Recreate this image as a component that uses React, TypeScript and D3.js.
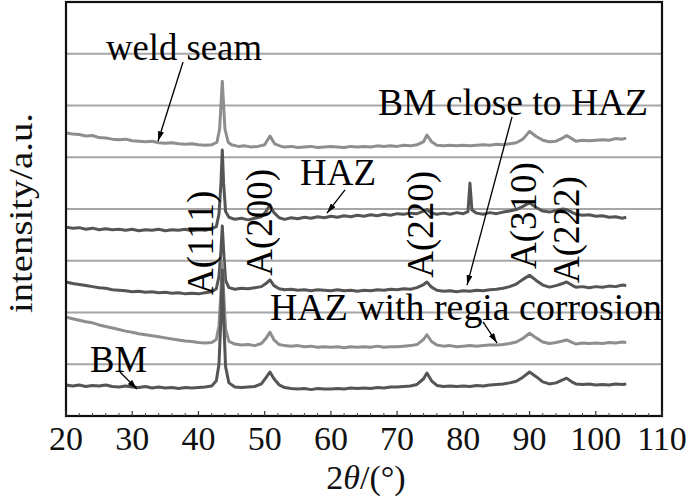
import React from "react";
import * as d3 from "d3";

type P = [number, number];

const weldSeam: P[] = [[20,5.47],[21,5.45],[22,5.44],[23,5.41],[24,5.42],[25,5.38],[26,5.37],[27,5.35],[28,5.34],[29,5.35],[30,5.32],[31,5.31],[32,5.30],[33,5.31],[34,5.28],[35,5.27],[36,5.28],[37,5.26],[38,5.25],[39,5.26],[40,5.24],[41,5.23],[42,5.24],[42.8,5.29],[43.2,5.55],[43.6,6.47],[44.0,5.55],[44.5,5.29],[45,5.24],[46,5.21],[47,5.22],[48,5.20],[49,5.21],[50,5.24],[50.8,5.41],[51.5,5.26],[52.5,5.21],[53,5.20],[54,5.21],[55,5.19],[56,5.20],[57,5.21],[58,5.19],[59,5.20],[60,5.21],[61,5.20],[62,5.19],[63,5.21],[64,5.20],[65,5.21],[66,5.20],[67,5.22],[68,5.21],[69,5.22],[70,5.21],[71,5.23],[72,5.22],[73,5.24],[74,5.30],[74.5,5.43],[75.2,5.30],[76,5.23],[77,5.22],[78,5.23],[79,5.22],[80,5.23],[81,5.22],[82,5.23],[83,5.24],[84,5.23],[85,5.25],[86,5.24],[87,5.26],[88,5.28],[89,5.35],[90,5.50],[91,5.40],[92,5.33],[93,5.30],[94,5.31],[95,5.37],[95.6,5.42],[96.5,5.35],[97,5.31],[98,5.33],[99,5.32],[100,5.33],[101,5.34],[102,5.33],[103,5.36],[104,5.35],[104.6,5.37]];

const haz: P[] = [[20,3.65],[21,3.63],[22,3.64],[23,3.61],[24,3.63],[25,3.60],[26,3.62],[27,3.60],[28,3.61],[29,3.59],[30,3.61],[31,3.58],[32,3.60],[33,3.59],[34,3.61],[35,3.58],[36,3.60],[37,3.59],[38,3.61],[39,3.58],[40,3.60],[41,3.59],[42,3.62],[42.7,3.66],[43.1,3.90],[43.4,4.50],[43.6,5.14],[43.8,4.50],[44.1,3.95],[44.6,3.84],[45.5,3.80],[46.5,3.82],[47.5,3.79],[48.5,3.82],[49.5,3.85],[50.2,3.95],[50.8,4.08],[51.4,3.93],[52.2,3.83],[53,3.80],[54,3.83],[55,3.81],[56,3.84],[57,3.82],[58,3.85],[59,3.83],[60,3.86],[61,3.84],[62,3.87],[63,3.85],[64,3.88],[65,3.86],[66,3.89],[67,3.87],[68,3.90],[69,3.88],[70,3.91],[71,3.90],[72,3.92],[73,3.91],[74,3.96],[74.5,3.99],[75.2,3.92],[76,3.90],[77,3.92],[78,3.90],[79,3.93],[80,3.91],[80.7,3.95],[81.0,4.50],[81.3,3.98],[82,3.92],[83,3.90],[84,3.93],[85,3.91],[86,3.94],[87,3.96],[88,3.99],[89,4.05],[90,4.12],[91,4.03],[92,3.96],[93,3.94],[94,3.97],[95,4.00],[95.6,3.99],[96.5,3.93],[97,3.90],[98,3.88],[99,3.89],[100,3.86],[101,3.87],[102,3.84],[103,3.85],[104,3.82],[104.6,3.84]];

const bmCloseToHaz: P[] = [[20,2.59],[21,2.56],[22,2.54],[23,2.52],[24,2.50],[25,2.48],[26,2.47],[27,2.44],[28,2.43],[29,2.42],[30,2.40],[31,2.41],[32,2.39],[33,2.40],[34,2.38],[35,2.39],[36,2.37],[37,2.38],[38,2.36],[39,2.37],[40,2.36],[41,2.38],[42,2.40],[42.7,2.46],[43.1,2.70],[43.4,3.20],[43.6,3.67],[43.8,3.20],[44.1,2.62],[44.6,2.48],[45.5,2.45],[46.5,2.47],[47.5,2.46],[48.5,2.48],[49.5,2.50],[50.2,2.56],[50.8,2.63],[51.4,2.52],[52.2,2.46],[53,2.44],[54,2.45],[55,2.43],[56,2.44],[57,2.42],[58,2.44],[59,2.43],[60,2.42],[61,2.44],[62,2.42],[63,2.43],[64,2.41],[65,2.43],[66,2.42],[67,2.44],[68,2.43],[69,2.45],[70,2.44],[71,2.46],[72,2.45],[73,2.48],[74,2.54],[74.5,2.59],[75.2,2.49],[76,2.43],[77,2.41],[78,2.42],[79,2.40],[80,2.42],[81,2.41],[82,2.43],[83,2.42],[84,2.44],[85,2.45],[86,2.47],[87,2.50],[88,2.55],[89,2.64],[90,2.72],[91,2.62],[92,2.53],[93,2.49],[94,2.52],[95,2.56],[95.6,2.59],[96.5,2.52],[97,2.49],[98,2.50],[99,2.48],[100,2.50],[101,2.49],[102,2.51],[103,2.50],[104,2.53],[104.6,2.52]];

const hazRegia: P[] = [[20,1.91],[21,1.88],[22,1.85],[23,1.82],[24,1.80],[25,1.76],[26,1.73],[27,1.70],[28,1.67],[29,1.64],[30,1.62],[31,1.59],[32,1.57],[33,1.55],[34,1.53],[35,1.51],[36,1.49],[37,1.47],[38,1.45],[39,1.44],[40,1.42],[41,1.41],[42,1.42],[42.7,1.48],[43.1,1.75],[43.4,2.40],[43.6,2.98],[43.8,2.40],[44.1,1.68],[44.6,1.44],[45.5,1.39],[46.5,1.37],[47.5,1.38],[48.5,1.36],[49.5,1.40],[50.2,1.50],[50.8,1.62],[51.4,1.47],[52.2,1.38],[53,1.36],[54,1.35],[55,1.36],[56,1.34],[57,1.35],[58,1.33],[59,1.34],[60,1.33],[61,1.34],[62,1.32],[63,1.34],[64,1.33],[65,1.34],[66,1.33],[67,1.35],[68,1.33],[69,1.34],[70,1.34],[71,1.35],[72,1.36],[73,1.38],[74,1.48],[74.5,1.57],[75.2,1.44],[76,1.37],[77,1.35],[78,1.36],[79,1.34],[80,1.35],[81,1.36],[82,1.35],[83,1.36],[84,1.37],[85,1.37],[86,1.38],[87,1.40],[88,1.43],[89,1.50],[90,1.60],[91,1.51],[92,1.43],[93,1.40],[94,1.42],[95,1.45],[95.6,1.47],[96.5,1.42],[97,1.39],[98,1.41],[99,1.40],[100,1.41],[101,1.40],[102,1.42],[103,1.41],[104,1.43],[104.6,1.42]];

const bm: P[] = [[20,0.60],[21,0.58],[22,0.60],[23,0.57],[24,0.59],[25,0.58],[26,0.60],[27,0.57],[28,0.56],[29,0.58],[30,0.56],[31,0.55],[32,0.57],[33,0.54],[34,0.56],[35,0.54],[36,0.55],[37,0.53],[38,0.55],[39,0.54],[40,0.55],[41,0.56],[42,0.58],[42.7,0.68],[43.1,1.00],[43.4,1.90],[43.6,2.82],[43.8,1.90],[44.1,0.95],[44.6,0.64],[45.5,0.56],[46.5,0.55],[47.5,0.56],[48.5,0.57],[49.5,0.62],[50.2,0.74],[50.8,0.85],[51.4,0.72],[52.2,0.60],[53,0.55],[54,0.53],[55,0.52],[56,0.53],[57,0.51],[58,0.53],[59,0.52],[60,0.52],[61,0.53],[62,0.52],[63,0.54],[64,0.53],[65,0.54],[66,0.53],[67,0.55],[68,0.54],[69,0.56],[70,0.56],[71,0.57],[72,0.58],[73,0.61],[74,0.72],[74.5,0.83],[75.2,0.68],[76,0.59],[77,0.57],[78,0.58],[79,0.57],[80,0.58],[81,0.57],[82,0.59],[83,0.58],[84,0.60],[85,0.61],[86,0.62],[87,0.64],[88,0.67],[89,0.75],[90,0.85],[91,0.76],[92,0.66],[93,0.62],[94,0.64],[95,0.70],[95.6,0.73],[96.5,0.65],[97,0.62],[98,0.61],[99,0.62],[100,0.60],[101,0.61],[102,0.60],[103,0.62],[104,0.61],[104.6,0.62]];

const seriesNames = ["weld seam", "HAZ", "BM close to HAZ", "HAZ with regia corrosion", "BM"];
const seriesData = [weldSeam, haz, bmCloseToHaz, hazRegia, bm];
const seriesShade = ["light", "dark", "dark", "light", "dark"];

const xTickLabels = [20, 30, 40, 50, 60, 70, 80, 90, 100, 110];
const xMinorTicks = [22, 24, 26, 28, 32, 34, 36, 38, 42, 44, 46, 48, 52, 54, 56, 58, 62, 64, 66, 68, 72, 74, 76, 78, 82, 84, 86, 88, 92, 94, 96, 98, 102, 104, 106, 108];
const yGridLevels = [1, 2, 3, 4, 5, 6, 7];

// label text, anchor 2θ, anchor intensity, text length
const seriesLabels: [string, number, number, number][] = [
  ["weld seam", 26.04, 6.88, 156],
  ["BM close to HAZ", 67.12, 5.82, 270],
  ["HAZ", 55.34, 4.46, 76],
  ["HAZ with regia corrosion", 50.81, 1.86, 392],
  ["BM", 23.62, 0.85, 57],
];
// arrows: from (2θ, I) to (2θ, I)
const arrows: [number, number, number, number][] = [
  [37.67, 6.84, 33.89, 5.31],
  [62.13, 4.37, 59.41, 3.92],
  [87.35, 5.78, 80.56, 2.53],
  [82.97, 1.82, 85.09, 1.41],
  [28.15, 0.85, 30.72, 0.52],
];
// peak labels: text, 2θ of baseline, intensity of start
const peakLabels: [string, number, number][] = [
  ["A(111)", 42.2, 2.34],
  ["A(200)", 51.11, 2.71],
  ["A(220)", 75.42, 2.67],
  ["A(310)", 90.98, 2.84],
  ["A(222)", 97.47, 2.57],
];

const FONT = "'Liberation Serif', 'Times New Roman', serif";

export default function App() {
  const W = 700, H = 498;
  const L = 66, R = 662, T = 2, B = 416;
  const x = d3.scaleLinear().domain([20, 110]).range([L, R]);
  const y = d3.scaleLinear().domain([0, 8]).range([B, T]);
  const line = d3.line<P>().x((d) => x(d[0])).y((d) => y(d[1]));

  return (
    <div style={{ position: "absolute", left: 0, top: 0 }}>
      <svg width={W} height={H} style={{ display: "block", background: "#fff" }}>
        <defs>
          <marker id="ah" viewBox="0 0 10 6" refX="10" refY="3" markerWidth="10" markerHeight="6" markerUnits="userSpaceOnUse" orient="auto">
            <path d="M0,0 L10,3 L0,6 z" fill="#000" />
          </marker>
        </defs>
        {yGridLevels.map((v) => (
          <line key={v} x1={L} x2={R} y1={y(v)} y2={y(v)} stroke="#a6a6a6" strokeWidth={1.8} />
        ))}
        {seriesData.map((d, i) => (
          <path key={seriesNames[i]} d={line(d) || ""} fill="none"
            stroke={seriesShade[i] === "light" ? "#8e8e8e" : "#555555"}
            strokeWidth={3} strokeLinejoin="round" />
        ))}
        <rect x={L} y={T} width={R - L} height={B - T} fill="none" stroke="#111" strokeWidth={2.2} />
        {xMinorTicks.map((t) => (
          <line key={"m" + t} x1={x(t)} x2={x(t)} y1={B} y2={B - 3} stroke="#444" strokeWidth={1} />
        ))}
        {xTickLabels.map((t) => (
          <g key={"t" + t}>
            <line x1={x(t)} x2={x(t)} y1={B} y2={B - 5} stroke="#333" strokeWidth={1.2} />
            <text x={x(t)} y={450} textAnchor="middle" fontFamily={FONT} fontSize={34} fill="#111">{t}</text>
          </g>
        ))}
        <text x={366} y={489} textAnchor="middle" fontFamily={FONT} fontSize={34} fill="#111">
          2<tspan fontStyle="italic">θ</tspan>/(°)
        </text>
        <text transform={`translate(32,213) rotate(-90)`} textAnchor="middle" fontFamily={FONT} fontSize={34} fill="#111"
          textLength={200} lengthAdjust="spacingAndGlyphs">intensity/a.u.</text>
        {arrows.map((a, i) => (
          <line key={"a" + i} x1={x(a[0])} y1={y(a[1])} x2={x(a[2])} y2={y(a[3])} stroke="#000" strokeWidth={1.3} markerEnd="url(#ah)" />
        ))}
        {seriesLabels.map((s) => (
          <text key={s[0]} x={x(s[1])} y={y(s[2])} fontFamily={FONT} fontSize={37} fill="#000"
            textLength={s[3]} lengthAdjust="spacingAndGlyphs">{s[0]}</text>
        ))}
        {peakLabels.map((p) => (
          <text key={p[0]} transform={`translate(${x(p[1])},${y(p[2])}) rotate(-90)`} fontFamily={FONT} fontSize={37} fill="#000">{p[0]}</text>
        ))}
      </svg>
    </div>
  );
}
